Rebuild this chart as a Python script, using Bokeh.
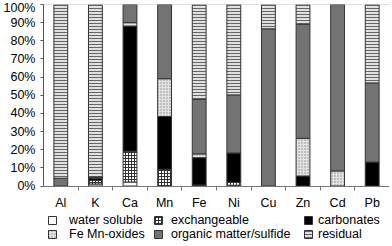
import numpy as np
from bokeh.plotting import figure
from bokeh.models import (Range1d, FixedTicker, PrintfTickFormatter, Span,
                          ColumnDataSource, Legend, LegendItem)
from bokeh.embed import file_html
from bokeh.resources import INLINE

# ---------------- data ----------------
elements = ["Al", "K", "Ca", "Mn", "Fe", "Ni", "Cu", "Zn", "Cd", "Pb"]
fractions = ["water soluble", "exchangeable", "carbonates",
             "Fe Mn-oxides", "organic matter/sulfide", "residual"]
water_soluble = [0, 1.1, 2.2, 0, 0, 0.4, 0, 0, 0, 0]
exchangeable = [0, 2.0, 17.0, 9.2, 0.6, 1.6, 0, 0, 0, 0]
carbonates = [0, 1.2, 68.9, 29.1, 15.0, 16.2, 0, 5.5, 0, 13.2]
fe_mn_oxides = [0, 0, 1.9, 20.8, 2.1, 0, 0, 20.8, 8.3, 0]
organic = [4.3, 0.6, 10.0, 40.9, 30.0, 32.0, 86.6, 62.8, 91.7, 43.6]
residual = [95.7, 95.1, 0, 0, 52.3, 49.8, 13.4, 10.9, 0, 43.2]
y_ticks = [0, 10, 20, 30, 40, 50, 60, 70, 80, 90, 100]

# ---------------- styles / layout ----------------
FONT = "Liberation Sans"
FS = "12.5px"
fills = ["#ffffff", "#ffffff", "#000000", "#e2e2e2", "#737373", "#e0e0e0"]
hatches = [" ", "cross", " ", "dot", " ", "horizontal_line"]
hatch_colors = ["#000000", "#333333", "#000000", "#8c8c8c", "#000000", "#666666"]
hatch_scales = [3, 3, 3, 3, 3, 3]

W, H = 392, 246
TOP = 4            # px above the 100% line
PLOT_PX = 181.5    # px from 0% to 100%
below_px = H - TOP - PLOT_PX          # room under 0% for labels + legend
y_start = -100.0 * below_px / PLOT_PX

cols = ["ws", "ex", "ca", "fm", "om", "re"]
src = ColumnDataSource(dict(
    x=list(np.arange(len(elements)) + 0.5),
    ws=water_soluble, ex=exchangeable, ca=carbonates,
    fm=fe_mn_oxides, om=organic, re=residual,
))

p = figure(width=W, height=H, output_backend="svg", toolbar_location=None,
           x_range=Range1d(0, len(elements)), y_range=Range1d(y_start, 100),
           min_border_left=42, min_border_right=3, min_border_top=TOP,
           min_border_bottom=0)
p.outline_line_color = None
p.xgrid.visible = False
p.ygrid.visible = False
p.background_fill_color = "white"
p.border_fill_color = "white"

rs = p.vbar_stack(cols, x="x", width=0.4, source=src,
                  fill_color=fills, hatch_pattern=hatches, hatch_color=hatch_colors,
                  hatch_scale=hatch_scales, hatch_weight=1,
                  line_color="#333333", line_width=1)

p.add_layout(Span(location=100, dimension="width", line_color="#bdbdbd", line_width=1))

# y axis
ya = p.yaxis[0]
ya.bounds = (0, 100)
ya.ticker = FixedTicker(ticks=y_ticks)
ya.formatter = PrintfTickFormatter(format="%d%%")
ya.major_tick_out = 3
ya.major_tick_in = 0
ya.minor_tick_out = 0
ya.minor_tick_in = 0
ya.major_label_standoff = 5
ya.axis_line_color = "#555555"
ya.major_tick_line_color = "#555555"
ya.major_label_text_font = FONT
ya.major_label_text_font_size = FS
ya.major_label_text_color = "black"

# x axis at 0%: labels at category centres, ticks between categories
xa = p.xaxis[0]
xa.fixed_location = 0
centers = list(np.arange(len(elements)) + 0.5)
bounds = list(np.arange(1, len(elements)))
xa.ticker = FixedTicker(ticks=centers, minor_ticks=bounds)
xa.major_label_overrides = {float(c): e for c, e in zip(centers, elements)}
xa.major_tick_out = 0
xa.major_tick_in = 0
xa.major_tick_line_color = None
xa.minor_tick_out = 4
xa.minor_tick_in = 0
xa.minor_tick_line_color = "#777777"
xa.major_label_standoff = 6
xa.axis_line_color = "#777777"
xa.major_label_text_font = FONT
xa.major_label_text_font_size = FS
xa.major_label_text_color = "black"

# ---------------- legend: three columns of two items ----------------
legend_cols = [[0, 3], [1, 4], [2, 5]]
legend_x = [4, 110, 260]
legend_standoff = [12, 8, 5]
for idxs, lx, so in zip(legend_cols, legend_x, legend_standoff):
    items = [LegendItem(label=fractions[i], renderers=[rs[i]]) for i in idxs]
    lg = Legend(items=items, location=(lx, 5), orientation="vertical",
                padding=0, margin=0, spacing=0, border_line_color=None,
                background_fill_alpha=0, glyph_width=10, glyph_height=10,
                label_standoff=so, label_height=10,
                label_text_font=FONT, label_text_font_size=FS,
                label_text_color="black", label_text_baseline="middle")
    p.add_layout(lg, "center")

open("out.html", "w").write(file_html(p, INLINE))
